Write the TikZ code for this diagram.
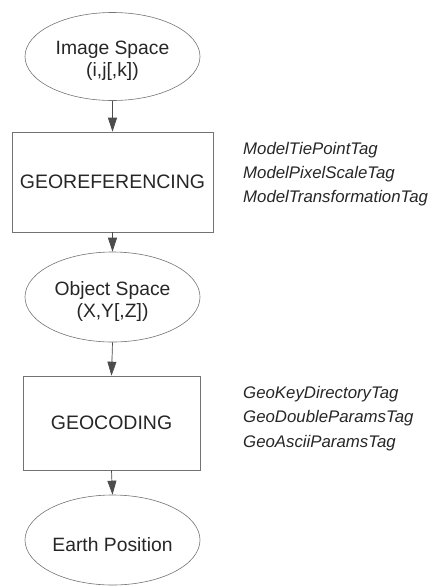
\documentclass[tikz,border=0pt]{standalone}
\usepackage{fontspec}
\setmainfont{Liberation Sans}
\usetikzlibrary{arrows.meta,shapes.geometric}
\begin{document}
\begin{tikzpicture}[x=1pt,y=-1pt,
  elli/.style={ellipse,draw=black!55,line width=0.6pt,minimum width=175pt,minimum height=88pt,inner sep=0pt},
  elltext/.style={inner sep=0pt,align=center,font=\fontsize{19.3}{22}\selectfont,text=black!85},
  procbox/.style={rectangle,draw=black!55,line width=0.6pt,inner sep=0pt,font=\fontsize{19.5}{23}\selectfont,text=black!85},
  tag/.style={anchor=west,inner sep=0pt,font=\itshape\fontsize{16.8}{20}\selectfont,text=black!85},
  flow/.style={draw=black!70,line width=0.7pt,-{Triangle[width=9pt,length=14pt]},fill=black!70}]
\useasboundingbox (0,0) rectangle (432,587);
\node[elli] (img) at (112.5,56.5) {};
\node[elltext] (imgt) at (112.5,61) {Image Space\\(i,j[,k])};
\node[procbox,minimum width=201pt,minimum height=100pt] (geo) at (112.5,182) {GEOREFERENCING};
\node[elli,minimum height=90pt] (obj) at (112.5,297) {};
\node[elltext] (objt) at (112.5,302) {Object Space\\(X,Y[,Z])};
\node[procbox,minimum width=177pt,minimum height=94pt] (gc) at (111.5,423) {GEOCODING};
\node[elli,minimum height=90pt] (earth) at (112.5,540) {};
\node[elltext] (eartht) at (112.5,545) {Earth Position};
\node[tag] (t1) at (243,150) {ModelTiePointTag};
\node[tag] (t2) at (243,174) {ModelPixelScaleTag};
\node[tag] (t3) at (243,198) {ModelTransformationTag};
\node[tag] (g1) at (243,394) {GeoKeyDirectoryTag};
\node[tag] (g2) at (243,418) {GeoDoubleParamsTag};
\node[tag] (g3) at (243,443) {GeoAsciiParamsTag};
\draw[flow] (img.south) -- (geo.north);
\draw[flow] (geo.south) -- (obj.north);
\draw[flow] (obj.south) -- (gc.north);
\draw[flow] (gc.south) -- (earth.north);
\end{tikzpicture}
\end{document}
